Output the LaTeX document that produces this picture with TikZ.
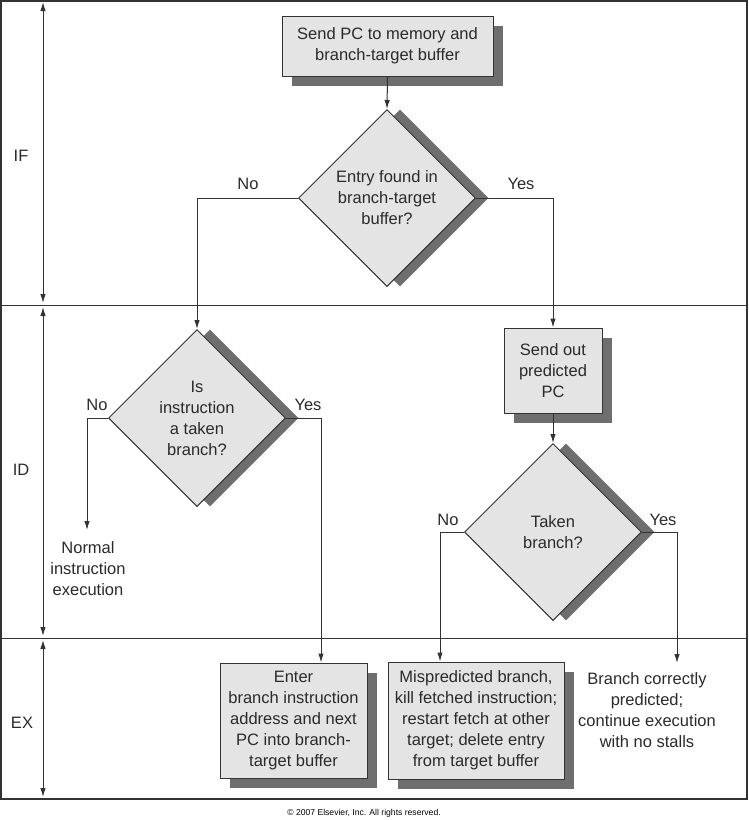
\documentclass[tikz,border=0pt]{standalone}
\usepackage{fontspec}
\setmainfont{Liberation Sans}
\usetikzlibrary{shapes.geometric,shadows,arrows.meta,calc}
\definecolor{boxfill}{HTML}{E4E4E4}
\definecolor{shadowgray}{HTML}{6E6E6E}
\definecolor{linegray}{HTML}{333333}
\definecolor{textgray}{HTML}{2A2A2A}
\begin{document}
\begin{tikzpicture}[x=1pt,y=-1pt,
  every node/.style={text=textgray,font=\fontsize{16.5}{21}\selectfont},
  procbox/.style={draw=linegray,line width=1pt,fill=boxfill,align=center,inner sep=0pt,
    drop shadow={shadow xshift=10pt,shadow yshift=-10pt,fill=shadowgray,opacity=1}},
  decision/.style={diamond,aspect=1,draw=linegray,line width=1pt,fill=boxfill,align=center,inner sep=0pt,
    minimum width=177pt,minimum height=177pt,
    drop shadow={shadow xshift=13pt,shadow yshift=0pt,fill=shadowgray,opacity=1}},
  conn/.style={draw=linegray,line width=1pt},
  arr/.style={conn,-{Latex[length=9pt,width=5.5pt]}},
  phase/.style={draw=linegray,line width=1pt,{Latex[length=9pt,width=5.5pt]}-{Latex[length=9pt,width=5.5pt]}},
  lbl/.style={inner sep=0pt,align=center}]
\useasboundingbox (0,0) rectangle (748,820);
% frame and phase separators
\draw[draw=linegray,line width=1.2pt] (1,1) rectangle (747,799);
\draw[draw=linegray,line width=1pt] (1,305) -- (747,305);
\draw[draw=linegray,line width=1pt] (1,638) -- (747,638);
\coordinate (p1) at (43,2);
\coordinate (p2) at (43,303);
\coordinate (p3) at (43,307);
\coordinate (p4) at (43,636);
\coordinate (p5) at (43,640);
\coordinate (p6) at (43,797);
\draw[phase] (p1) -- (p2);
\draw[phase] (p3) -- (p4);
\draw[phase] (p5) -- (p6);
\node[lbl] (IF) at (21,156) {IF};
\node[lbl] (ID) at (21,470) {ID};
\node[lbl] (EX) at (22,723) {EX};
% nodes
\node[procbox,minimum width=211pt,minimum height=60pt] (send) at (387.5,46) {Send PC to memory and\\branch-target buffer};
\node[decision] (d1) at (387,198) {Entry found in\\branch-target\\buffer?};
\node[decision] (d2) at (197,418) {Is\\instruction\\a taken\\branch?};
\node[procbox,minimum width=98pt,minimum height=85pt] (out) at (553,370.5) {Send out\\predicted\\PC};
\node[decision] (d3) at (553,532) {Taken\\branch?};
\node[procbox,minimum width=147pt,minimum height=115pt] (enter) at (293.5,720.5) {Enter\\branch instruction\\address and next\\PC into branch-\\target buffer};
\node[procbox,minimum width=176pt,minimum height=117pt] (mis) at (476,720.5) {Mispredicted branch,\\kill fetched instruction;\\restart fetch at other\\target; delete entry\\from target buffer};
\node[lbl] (normal) at (88,569) {Normal\\instruction\\execution};
\node[lbl] (correct) at (647,710) {Branch correctly\\predicted;\\continue execution\\with no stalls};
% labels
\node[lbl] (no1) at (248,184) {No};
\node[lbl] (yes1) at (521,184) {Yes};
\node[lbl] (no2) at (97,405) {No};
\node[lbl] (yes2) at (308,405) {Yes};
\node[lbl] (no3) at (448,520) {No};
\node[lbl] (yes3) at (663,520) {Yes};
% connectors
\draw[arr] (send.south) -- (d1.north);
\draw[arr] (d1.west) -| (d2.north);
\draw[arr] (d1.east) -| (out.north);
\draw[arr] (out.south) -- (d3.north);
\coordinate (nend) at (87,530);
\draw[arr] (d2.west) -| (nend);
\coordinate (c2) at (321,418);
\draw[arr] (d2.east) -- (c2) -- (c2 |- enter.north);
\coordinate (c3) at (440,532);
\draw[arr] (d3.west) -- (c3) -- (c3 |- mis.north);
\coordinate (yend) at (677,663);
\draw[arr] (d3.east) -| (yend);
% copyright
\node[lbl,font=\fontsize{8.6}{10}\selectfont,text=black] (copy) at (364,813) {© 2007 Elsevier, Inc. All rights reserved.};
\end{tikzpicture}
\end{document}
